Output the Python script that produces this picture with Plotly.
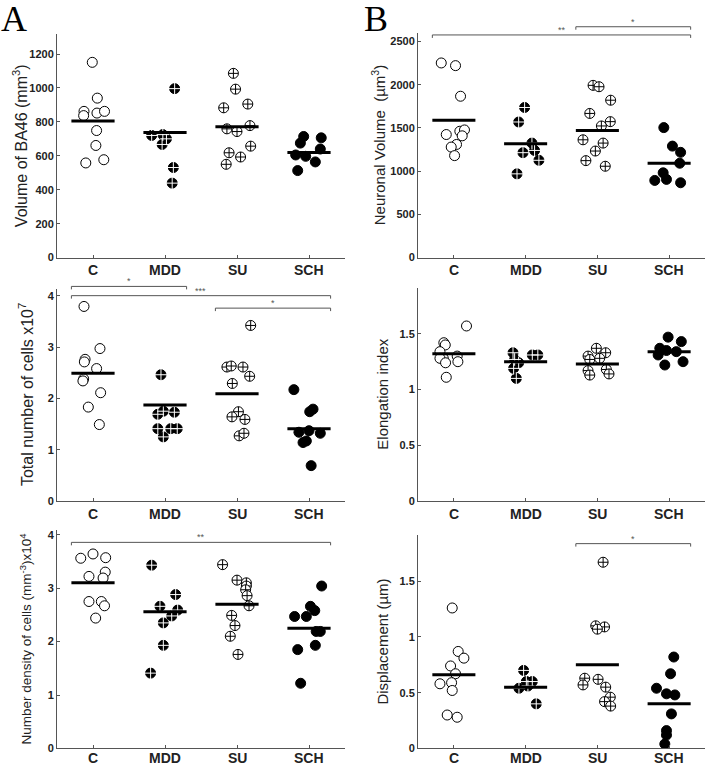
import plotly.graph_objects as go

categories = ["C", "MDD", "SU", "SCH"]

# ---------------- Panel A1: Volume of BA46 (mm^3) ----------------
vol_values = [
    [1151, 940, 862, 837, 852, 862, 749, 661, 558, 577],
    [996, 720, 725, 700, 667, 531, 439],
    [1086, 993, 905, 883, 759, 743, 778, 657, 618, 593, 550],
    [714, 675, 706, 640, 605, 597, 564, 513],
]
vol_jitter = [
    [-0.01, 0.06, -0.125, -0.13, 0.055, 0.16, 0.05, 0.04, -0.10, 0.15],
    [0.134, -0.185, -0.03, 0.02, -0.04, 0.116, 0.10],
    [-0.05, -0.02, 0.15, -0.185, -0.14, 0.0, 0.18, 0.19, -0.11, 0.05, -0.15],
    [-0.074, -0.12, 0.17, 0.157, -0.185, -0.046, 0.088, -0.157],
]
vol_means = [805, 737, 772, 619]
vol_ticks = [0, 200, 400, 600, 800, 1000, 1200]

# ---------------- Panel B1: Neuronal volume (um^3) ----------------
nv_values = [
    [2252, 2221, 1867, 1462, 1477, 1424, 1409, 1309, 1279, 1180],
    [1737, 1569, 1325, 1214, 1240, 1126, 969],
    [1993, 1977, 1821, 1668, 1573, 1523, 1363, 1325, 1233, 1122, 1057],
    [1504, 1290, 1218, 1092, 981, 893, 905, 866],
]
nv_jitter = [
    [-0.176, 0.023, 0.093, 0.083, 0.148, -0.106, 0.116, 0.037, -0.037, 0.01],
    [-0.014, -0.097, 0.088, -0.037, 0.125, 0.185, -0.12],
    [-0.06, 0.023, 0.185, -0.106, 0.18, 0.056, -0.2, 0.08, -0.028, -0.16, 0.11],
    [-0.074, 0.046, 0.16, 0.148, -0.083, -0.2, -0.037, 0.16],
]
nv_means = [1588, 1317, 1470, 1092]
nv_ticks = [0, 500, 1000, 1500, 2000, 2500]

# ---------------- Panel A2: Total number of cells x10^7 ----------------
tot_values = [
    [3.79, 2.97, 2.76, 2.71, 2.58, 2.38, 2.34, 2.11, 1.83, 1.49],
    [2.46, 1.69, 1.75, 1.73, 1.41, 1.25, 1.41, 1.41],
    [3.42, 2.61, 2.63, 2.61, 2.43, 2.29, 1.74, 1.64, 1.59, 1.27, 1.32],
    [2.17, 1.74, 1.79, 1.34, 1.37, 1.32, 1.17, 1.14, 0.69],
]
tot_jitter = [
    [-0.125, 0.097, -0.11, -0.12, 0.05, -0.13, -0.14, 0.106, -0.065, 0.088],
    [-0.056, -0.10, -0.023, 0.13, -0.10, -0.023, 0.08, 0.17],
    [0.19, -0.14, -0.08, 0.083, 0.176, -0.065, 0.02, -0.07, 0.11, 0.03, 0.097],
    [-0.21, 0.01, 0.056, -0.14, 0.0, 0.157, -0.037, -0.083, 0.03],
]
tot_means = [2.49, 1.87, 2.09, 1.41]
tot_ticks = [0, 1, 2, 3, 4]

# ---------------- Panel B2: Elongation index ----------------
el_values = [
    [1.57, 1.42, 1.40, 1.34, 1.28, 1.28, 1.24, 1.30, 1.25, 1.11],
    [1.33, 1.27, 1.19, 1.10, 1.31, 1.31, 1.24],
    [1.37, 1.33, 1.30, 1.27, 1.28, 1.17, 1.13, 1.18, 1.14],
    [1.47, 1.43, 1.37, 1.35, 1.31, 1.34, 1.22, 1.25],
]
el_jitter = [
    [0.176, -0.14, -0.12, -0.194, -0.148, -0.194, -0.116, 0.046, 0.056, -0.106],
    [-0.176, -0.153, -0.167, -0.13, 0.093, 0.17, -0.097],
    [-0.014, 0.116, -0.13, -0.106, 0.032, -0.13, -0.106, 0.125, 0.162],
    [-0.014, 0.17, -0.13, -0.037, -0.153, 0.10, -0.06, 0.194],
]
el_means = [1.32, 1.25, 1.23, 1.34]
el_ticks = [0, 0.5, 1, 1.5]

# ---------------- Panel A3: Number density of cells ----------------
den_values = [
    [3.56, 3.64, 3.57, 3.30, 3.22, 3.19, 2.75, 2.75, 2.67, 2.44],
    [3.43, 2.88, 2.66, 2.59, 2.48, 2.35, 1.93, 1.41],
    [3.44, 3.15, 3.10, 3.04, 2.97, 2.86, 2.67, 2.49, 2.30, 2.10, 1.76],
    [3.04, 2.66, 2.58, 2.47, 2.47, 2.19, 2.19, 1.85, 1.93, 1.22],
]
den_jitter = [
    [-0.17, 0.0, 0.176, 0.17, -0.056, 0.14, -0.056, 0.116, 0.16, 0.037],
    [-0.185, 0.148, -0.07, 0.176, 0.093, -0.023, -0.023, -0.2],
    [-0.2, 0.0, 0.13, 0.13, 0.12, 0.14, 0.167, -0.074, -0.028, -0.093, 0.014],
    [0.176, 0.02, 0.08, -0.2, -0.037, 0.10, 0.157, -0.157, 0.088, -0.116],
]
den_means = [3.10, 2.56, 2.70, 2.25]
den_ticks = [0, 1, 2, 3, 4]

# ---------------- Panel B3: Displacement (um) ----------------
dis_values = [
    [1.26, 0.87, 0.81, 0.74, 0.67, 0.58, 0.59, 0.52, 0.30, 0.28],
    [0.70, 0.60, 0.60, 0.54, 0.56, 0.40],
    [1.67, 1.10, 1.09, 1.07, 0.63, 0.62, 0.57, 0.55, 0.46, 0.42, 0.38],
    [0.82, 0.67, 0.54, 0.49, 0.48, 0.31, 0.16, 0.12, 0.04],
]
dis_jitter = [
    [-0.023, 0.06, 0.14, -0.046, 0.023, -0.194, -0.032, -0.023, -0.093, 0.046],
    [-0.028, 0.01, 0.093, -0.093, 0.032, 0.148],
    [0.08, -0.023, 0.10, 0.0, -0.176, 0.01, -0.2, 0.116, 0.18, 0.10, 0.185],
    [0.065, 0.02, -0.176, -0.037, 0.08, 0.032, -0.037, -0.037, -0.06],
]
dis_means = [0.66, 0.55, 0.75, 0.40]
dis_ticks = [0, 0.5, 1, 1.5]

# Significance brackets: (group index from, group index to, level, label)
vol_brackets = []
nv_brackets = [(0, 3, 2576, "**"), (2, 3, 2671, "*")]
tot_brackets = [(0, 1, 4.18, "*"), (0, 3, 4.0, "***"), (2, 3, 3.757, "*")]
el_brackets = []
den_brackets = [(0, 3, 3.857, "**")]
dis_brackets = [(2, 3, 1.837, "*")]

# ---------------- Layout (pixel boxes) ----------------
W, H = 705, 770
panels = [
    dict(v=vol_values, j=vol_jitter, m=vol_means, t=vol_ticks, br=vol_brackets, ymax=1320,
         box=(57, 345, 32, 258.3), title="Volume of BA46 (mm<sup>3</sup>)", tx=19.5, ts=16, lab=12.5),
    dict(v=nv_values, j=nv_jitter, m=nv_means, t=nv_ticks, br=nv_brackets, ymax=2600,
         box=(418, 705, 31.2, 258.3), title="Neuronal Volume  (µm<sup>3</sup>)", tx=378, ts=15, lab=12.5),
    dict(v=tot_values, j=tot_jitter, m=tot_means, t=tot_ticks, br=tot_brackets, ymax=4.13,
         box=(57, 345, 290, 504.3), title="Total number of cells x10<sup>7</sup>", tx=26, ts=16, lab=13.5),
    dict(v=el_values, j=el_jitter, m=el_means, t=el_ticks, br=el_brackets, ymax=1.908,
         box=(418, 705, 289.3, 504.3), title="Elongation index", tx=383, ts=15, lab=13.5),
    dict(v=den_values, j=den_jitter, m=den_means, t=den_ticks, br=den_brackets, ymax=4.08,
         box=(57, 345, 534, 754.3),
         title="Number density of cells (mm<sup>-3</sup>)x10<sup>4</sup>", tx=26, ts=13.5, lab=10),
    dict(v=dis_values, j=dis_jitter, m=dis_means, t=dis_ticks, br=dis_brackets, ymax=1.917,
         box=(418, 705, 538.3, 754.3), title="Displacement (µm)", tx=383, ts=15, lab=10),
]

AXIS_COLOR = "#555555"
TEXT_COLOR = "#222222"
FONT = "Liberation Sans, Arial, sans-serif"

fig = go.Figure()
shapes = []
annotations = []


def xpaper(box, xv):
    x0, x1 = box[0], box[1]
    return (x0 + (xv - 0.5) / 4.0 * (x1 - x0)) / W


def ypaper(box, ymax, yv, dpx=0.0):
    y0, y1 = box[2], box[3]
    py = y1 - yv / ymax * (y1 - y0) - dpx
    return 1 - py / H


for k, p in enumerate(panels, start=1):
    xa = "x" if k == 1 else f"x{k}"
    ya = "y" if k == 1 else f"y{k}"
    box = p["box"]
    for g in range(4):
        xs = [g + 1 + d for d in p["j"][g]]
        ys = p["v"][g]
        if g == 0:
            fig.add_trace(go.Scatter(x=xs, y=ys, mode="markers", xaxis=xa, yaxis=ya,
                                     marker=dict(symbol="circle", size=10, color="white",
                                                 line=dict(color="black", width=1))))
        elif g == 1:
            fig.add_trace(go.Scatter(x=xs, y=ys, mode="markers", xaxis=xa, yaxis=ya,
                                     marker=dict(symbol="circle", size=10, color="black",
                                                 line=dict(color="black", width=1))))
            fig.add_trace(go.Scatter(x=xs, y=ys, mode="markers", xaxis=xa, yaxis=ya,
                                     marker=dict(symbol="cross-thin", size=9,
                                                 line=dict(color="white", width=1))))
        elif g == 2:
            fig.add_trace(go.Scatter(x=xs, y=ys, mode="markers", xaxis=xa, yaxis=ya,
                                     marker=dict(symbol="circle-cross", size=10, color="white",
                                                 line=dict(color="black", width=1))))
        else:
            fig.add_trace(go.Scatter(x=xs, y=ys, mode="markers", xaxis=xa, yaxis=ya,
                                     marker=dict(symbol="circle", size=10, color="black",
                                                 line=dict(color="black", width=1))))
    for g, mval in enumerate(p["m"]):
        fig.add_trace(go.Scatter(x=[g + 1 - 0.3, g + 1 + 0.3], y=[mval, mval], mode="lines",
                                 xaxis=xa, yaxis=ya, line=dict(color="black", width=3)))

    fig.layout[f"xaxis{'' if k == 1 else k}"] = dict(
        domain=[box[0] / W, box[1] / W], range=[0.5, 4.5], anchor=ya,
        tickvals=[1, 2, 3, 4], showticklabels=False, ticks="inside", ticklen=3,
        tickcolor=AXIS_COLOR, showline=True, linecolor=AXIS_COLOR, linewidth=1,
        showgrid=False, zeroline=False,
    )
    fig.layout[f"yaxis{'' if k == 1 else k}"] = dict(
        domain=[1 - box[3] / H, 1 - box[2] / H], range=[0, p["ymax"]], anchor=xa,
        tickvals=p["t"], ticktext=[f"{t:g}" for t in p["t"]], ticks="inside", ticklen=3,
        tickcolor=AXIS_COLOR, showline=True, linecolor=AXIS_COLOR, linewidth=1,
        showgrid=False, zeroline=False,
        tickfont=dict(family=FONT, size=11, color=TEXT_COLOR, weight="bold"),
    )

    # category labels under the x axis
    for g, cat in enumerate(categories):
        annotations.append(dict(
            text=cat, xref="paper", yref="paper", x=xpaper(box, g + 1),
            y=1 - (box[3] + p["lab"]) / H, xanchor="center", yanchor="middle",
            showarrow=False, borderpad=0,
            font=dict(family=FONT, size=14, color=TEXT_COLOR, weight="bold"),
        ))

    # axis title
    annotations.append(dict(
        text=p["title"], textangle=-90, xref="paper", yref="paper",
        x=p["tx"] / W, y=1 - (box[2] + box[3]) / 2 / H, xanchor="center", yanchor="middle",
        showarrow=False, font=dict(family=FONT, size=p["ts"], color=TEXT_COLOR),
    ))

    # significance brackets
    for (g1, g2, lvl, lab) in p["br"]:
        xl = xpaper(box, g1 + 1 - 0.3)
        xr = xpaper(box, g2 + 1 + 0.3)
        yl = ypaper(box, p["ymax"], lvl)
        yt = ypaper(box, p["ymax"], lvl, dpx=-3)
        shapes.append(dict(type="path", xref="paper", yref="paper",
                           path=f"M {xl},{yt} L {xl},{yl} L {xr},{yl} L {xr},{yt}",
                           line=dict(color=AXIS_COLOR, width=1)))
        annotations.append(dict(
            text=lab, xref="paper", yref="paper", x=(xl + xr) / 2,
            y=ypaper(box, p["ymax"], lvl, dpx=5), xanchor="center", yanchor="middle",
            showarrow=False, font=dict(family=FONT, size=9, color=AXIS_COLOR),
        ))

# panel letters
for letter, px in (("A", 14), ("B", 376)):
    annotations.append(dict(
        text=letter, xref="paper", yref="paper", x=px / W, y=1 - 17 / H,
        xanchor="center", yanchor="middle", showarrow=False, borderpad=0,
        font=dict(family="Liberation Serif, Times New Roman, serif", size=36, color="black"),
    ))

fig.update_layout(
    width=W, height=H, margin=dict(l=0, r=0, t=0, b=0),
    paper_bgcolor="white", plot_bgcolor="white", showlegend=False,
    shapes=shapes, annotations=annotations,
)

fig.write_html(
    "out.html",
    config={"displayModeBar": False},
    post_script="document.body.style.margin='0px';document.body.style.overflow='hidden';",
)
